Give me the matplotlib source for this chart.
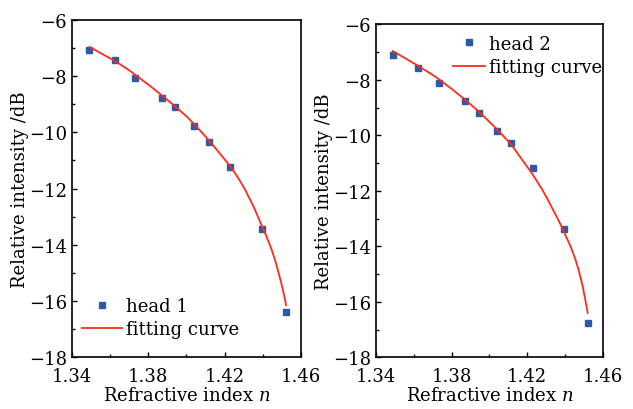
import numpy as np
import matplotlib
matplotlib.use("Agg")
import matplotlib.pyplot as plt
import matplotlib.ticker as ticker

plt.rcParams['font.family'] = ['DejaVu Serif']
plt.rcParams['mathtext.fontset'] = 'dejavuserif'
plt.rcParams['font.size'] = 13

# head 1 measured points
n1 = [1.3488, 1.3623, 1.3731, 1.3874, 1.3941, 1.4042, 1.4117, 1.4229, 1.4398, 1.4522]
y1 = [-7.07, -7.42, -8.05, -8.76, -9.11, -9.77, -10.36, -11.25, -13.44, -16.38]
# head 1 fitting curve
fit_n1 = [1.3492, 1.355, 1.3623, 1.37, 1.3731, 1.38, 1.3874, 1.3941, 1.40, 1.4042,
          1.4117, 1.4229, 1.4265, 1.43, 1.435, 1.4398, 1.442, 1.4445, 1.447, 1.4496, 1.451, 1.4522]
fit_y1 = [-6.96, -7.18, -7.45, -7.79, -7.95, -8.30, -8.70, -9.08, -9.43, -9.72,
          -10.28, -11.20, -11.56, -11.95, -12.62, -13.38, -13.72, -14.15, -14.68, -15.35, -15.76, -16.15]

# head 2 measured points
n2 = [1.3488, 1.3622, 1.3732, 1.3873, 1.3943, 1.4041, 1.4116, 1.4229, 1.4397, 1.4521]
y2 = [-7.12, -7.56, -8.11, -8.76, -9.20, -9.83, -10.27, -11.19, -13.39, -16.76]
# head 2 fitting curve
fit_n2 = [1.3488, 1.355, 1.3622, 1.37, 1.3732, 1.38, 1.3873, 1.3943, 1.4041, 1.4116,
          1.4229, 1.4255, 1.428, 1.431, 1.4345, 1.4375, 1.4397, 1.443, 1.4455, 1.4475,
          1.4495, 1.4509, 1.4521]
fit_y2 = [-6.96, -7.20, -7.49, -7.82, -7.97, -8.32, -8.72, -9.13, -9.78, -10.33,
          -11.40, -11.68, -11.95, -12.32, -12.78, -13.18, -13.50, -14.00, -14.45, -14.90,
          -15.45, -15.95, -16.40]

x_ticks = [1.34, 1.38, 1.42, 1.46]
x_minor = [1.36, 1.40, 1.44]

blue = "#2d5aa8"
red = "#ff2a1a"

fig = plt.figure(figsize=(6.33, 4.10), dpi=100)
ax1 = fig.add_axes([0.1137, 0.1268, 0.3618, 0.822])
ax2 = fig.add_axes([0.594, 0.126, 0.358, 0.812])


def style(ax):
    ax.set_xlim(1.34, 1.46)
    ax.set_ylim(-18, -6)
    ax.set_xticks(x_ticks)
    ax.set_xticks(x_minor, minor=True)
    ax.yaxis.set_major_locator(ticker.MultipleLocator(2))
    ax.yaxis.set_minor_locator(ticker.MultipleLocator(1))
    ax.xaxis.set_major_formatter(ticker.FormatStrFormatter('%.2f'))
    ax.yaxis.set_major_formatter(ticker.FuncFormatter(lambda v, p: f"\u2212{abs(int(v))}"))
    ax.tick_params(which='both', direction='in', top=False, right=False, width=1, labelsize=13)
    ax.tick_params(which='major', length=3.5)
    ax.tick_params(which='minor', length=2.5)
    ax.tick_params(axis='x', which='major', pad=7)
    for s in ax.spines.values():
        s.set_linewidth(1.2)
    ax.set_xlabel("Refractive index $n$", fontsize=13, labelpad=1)
    ax.set_ylabel("Relative intensity /dB", fontsize=13, labelpad=0)


ax1.plot(n1, y1, linestyle='none', marker='s', markersize=4.5, color=blue, label="head 1")
ax1.plot(fit_n1, fit_y1, color=red, linewidth=1.3, label="fitting curve")
style(ax1)
ax1.legend(loc='lower left', bbox_to_anchor=(0.045, 0.055), frameon=False, borderpad=0,
           borderaxespad=0, handlelength=2.2, handletextpad=0.2, labelspacing=0.3,
           fontsize=13)

ax2.plot(n2, y2, linestyle='none', marker='s', markersize=4.5, color=blue, label="head 2")
ax2.plot(fit_n2, fit_y2, color=red, linewidth=1.3, label="fitting curve")
style(ax2)
ax2.legend(loc='upper left', bbox_to_anchor=(0.33, 0.975), frameon=False, borderpad=0.1,
           borderaxespad=0, handlelength=1.8, handletextpad=0.2, labelspacing=0.3,
           fontsize=13)

fig.savefig("out.png", dpi=100)
